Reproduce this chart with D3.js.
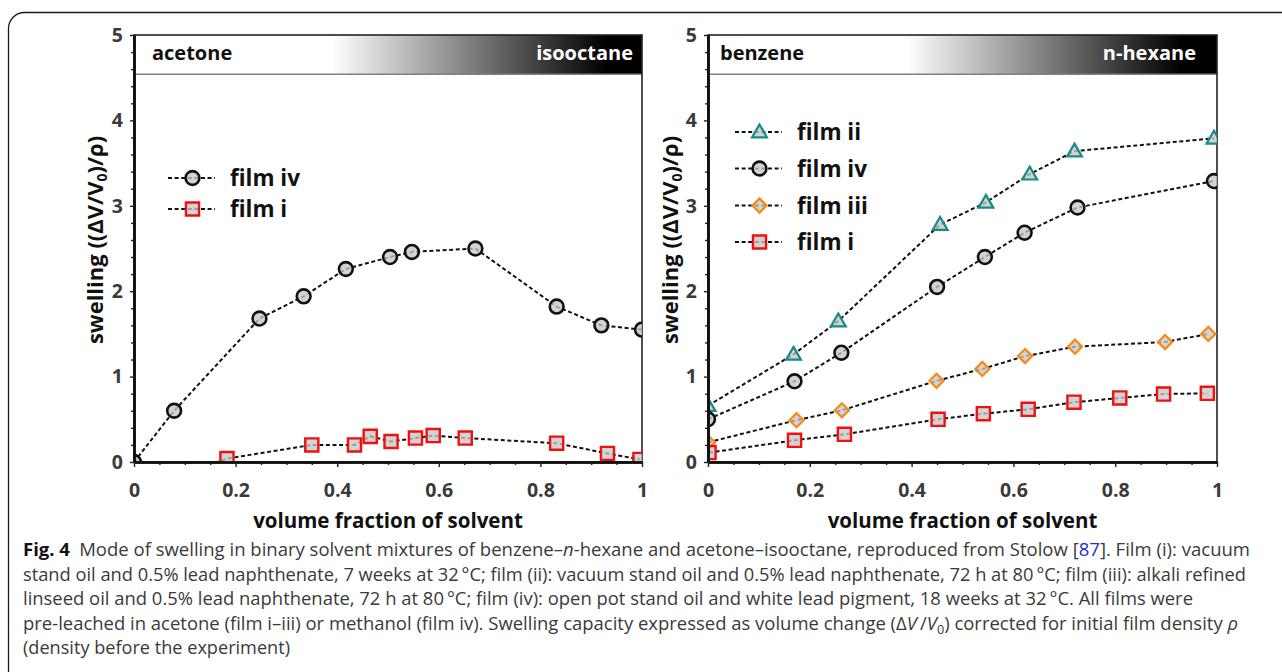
<!DOCTYPE html>
<html><head><meta charset="utf-8">
<script src="https://cdn.jsdelivr.net/npm/d3@7"></script>
<style>body{margin:0;background:#fff}svg{display:block}</style>
</head><body>
<script>
// ---------- data ----------
const xTicks = [0, 0.2, 0.4, 0.6, 0.8, 1];
const xTickLabels = ["0", "0.2", "0.4", "0.6", "0.8", "1"];
const xMinorTicks = [0.05,0.1,0.15,0.25,0.3,0.35,0.45,0.5,0.55,0.65,0.7,0.75,0.85,0.9,0.95];
const yTicks = [0, 1, 2, 3, 4, 5];
const yTickLabels = ["0", "1", "2", "3", "4", "5"];
const yMinorTicks = [0.2,0.4,0.6,0.8,1.2,1.4,1.6,1.8,2.2,2.4,2.6,2.8,3.2,3.4,3.6,3.8,4.2,4.4,4.6,4.8];

// acetone – isooctane panel
const acetoneFilmIvX = [0, 0.079, 0.247, 0.334, 0.417, 0.504, 0.547, 0.672, 0.832, 0.92, 1.0];
const acetoneFilmIvY = [0, 0.6, 1.68, 1.94, 2.26, 2.4, 2.46, 2.5, 1.82, 1.6, 1.55];
const acetoneFilmIX = [0.1, 0.183, 0.35, 0.434, 0.465, 0.506, 0.554, 0.589, 0.652, 0.832, 0.932, 0.996];
const acetoneFilmIY = [-0.15, 0.04, 0.2, 0.2, 0.3, 0.24, 0.28, 0.31, 0.28, 0.22, 0.1, 0.03];

// benzene – n-hexane panel
const benzeneFilmIiX = [0, 0.168, 0.256, 0.456, 0.546, 0.632, 0.72, 0.994];
const benzeneFilmIiY = [0.66, 1.26, 1.65, 2.78, 3.04, 3.37, 3.64, 3.79];
const benzeneFilmIvX = [0, 0.17, 0.262, 0.45, 0.544, 0.622, 0.726, 0.994];
const benzeneFilmIvY = [0.5, 0.945, 1.28, 2.05, 2.4, 2.685, 2.98, 3.29];
const benzeneFilmIiiX = [0, 0.174, 0.263, 0.449, 0.539, 0.623, 0.721, 0.898, 0.983];
const benzeneFilmIiiY = [0.23, 0.49, 0.605, 0.95, 1.09, 1.24, 1.35, 1.405, 1.5];
const benzeneFilmIX = [0.002, 0.17, 0.268, 0.452, 0.541, 0.629, 0.719, 0.809, 0.895, 0.981];
const benzeneFilmIY = [0.11, 0.254, 0.324, 0.5, 0.566, 0.617, 0.7, 0.75, 0.796, 0.804];

const solventBarLow = 4.54;
const leftSolvents = ["acetone", "isooctane"];
const rightSolvents = ["benzene", "n-hexane"];
const xTitle = "volume fraction of solvent";

// ---------- styles ----------
const markerStyles = {
  circle:  {stroke: "#111", sw: 2.6},
  square:  {stroke: "#ee1111", sw: 2.4},
  triangle:{stroke: "#178a8c", sw: 2.2},
  diamond: {stroke: "#f58a18", sw: 2.2}
};
const FONT = "'Open Sans', 'DejaVu Sans', sans-serif";

const W = 1282, H = 672;
const svg = d3.select("body").append("svg").attr("width", W).attr("height", H)
  .style("font-family", FONT);
svg.append("rect").attr("width", W).attr("height", H).attr("fill", "#fff");
const defs = svg.append("defs");

// outer rounded frame
svg.append("rect").attr("x", 8.5).attr("y", 12.5).attr("width", 1400).attr("height", 800)
  .attr("rx", 16).attr("fill", "none").attr("stroke", "#1a1a1a").attr("stroke-width", 1.3);

function markerPath(type) {
  if (type === "circle") return d3.symbol(d3.symbolCircle, 150)();
  if (type === "square") return d3.symbol(d3.symbolSquare, 172)();
  if (type === "triangle") return d3.symbol(d3.symbolTriangle, 95)();
  if (type === "diamond") return d3.symbol(d3.symbolSquare, 100)();
}
function drawMarker(sel, type, cx, cy) {
  const st = markerStyles[type];
  sel.append("path").attr("d", markerPath(type))
    .attr("transform", `translate(${cx},${cy})` + (type === "diamond" ? " rotate(45)" : "") + (type === "triangle" ? " translate(0,1)" : ""))
    .attr("fill", "#c6c6c6").attr("fill-opacity", 0.78)
    .attr("stroke", st.stroke).attr("stroke-width", st.sw);
}

function drawPanel(p, idx) {
  const x = d3.scaleLinear().domain([0, 1]).range([p.x0, p.x1]);
  const y = d3.scaleLinear().domain([0, 5]).range([462, 35]);
  const g = svg.append("g");

  // gradient bar
  const gid = "grad" + idx;
  const grad = defs.append("linearGradient").attr("id", gid).attr("x1", "0").attr("x2", "1").attr("y1", "0").attr("y2", "0");
  grad.append("stop").attr("offset", "0").attr("stop-color", "#fff");
  grad.append("stop").attr("offset", "0.39").attr("stop-color", "#fff");
  grad.append("stop").attr("offset", "0.93").attr("stop-color", "#000");
  grad.append("stop").attr("offset", "1").attr("stop-color", "#000");
  g.append("rect").attr("x", x(0)).attr("y", y(5)).attr("width", x(1) - x(0))
    .attr("height", y(solventBarLow) - y(5)).attr("fill", `url(#${gid})`);
  g.append("line").attr("x1", x(0)).attr("x2", x(1)).attr("y1", y(solventBarLow)).attr("y2", y(solventBarLow))
    .attr("stroke", "#808080").attr("stroke-width", 1.6);
  g.append("text").attr("x", x(0) + p.labelInset).attr("y", 60).text(p.solvents[0])
    .attr("font-size", 20).attr("font-weight", 700).attr("fill", "#111");
  g.append("text").attr("x", x(1) - p.labelInsetR).attr("y", 60).attr("text-anchor", "end").text(p.solvents[1])
    .attr("font-size", 20).attr("font-weight", 700).attr("fill", "#fff");

  // frame
  g.append("rect").attr("x", x(0)).attr("y", y(5)).attr("width", x(1) - x(0)).attr("height", y(0) - y(5))
    .attr("fill", "none").attr("stroke", "#222").attr("stroke-width", 1.6);

  // clip
  const cid = "clip" + idx;
  defs.append("clipPath").attr("id", cid).append("rect")
    .attr("x", x(0)).attr("y", y(5)).attr("width", x(1) - x(0)).attr("height", y(0) - y(5));
  const plot = g.append("g").attr("clip-path", `url(#${cid})`);

  const line = d3.line().x(d => x(d[0])).y(d => y(d[1]));
  p.series.forEach(s => {
    const pts = s.xs.map((v, i) => [v, s.ys[i]]);
    plot.append("path").datum(pts).attr("d", line).attr("fill", "none")
      .attr("stroke", "#111").attr("stroke-width", 2).attr("stroke-dasharray", "4,2.6");
  });
  p.series.forEach(s => {
    s.xs.forEach((v, i) => drawMarker(plot, s.marker, x(v), y(s.ys[i])));
  });

  // axes
  const yAxis = d3.axisLeft(y).tickValues(yTicks).tickFormat((d, i) => yTickLabels[i]).tickSize(4).tickSizeOuter(0).tickPadding(7);
  const yMinor = d3.axisLeft(y).tickValues(yMinorTicks).tickFormat("").tickSize(3).tickSizeOuter(0);
  const xAxis = d3.axisBottom(x).tickValues(xTicks).tickFormat((d, i) => xTickLabels[i]).tickSize(5).tickSizeOuter(0).tickPadding(16);
  const xMinor = d3.axisBottom(x).tickValues(xMinorTicks).tickFormat("").tickSize(3).tickSizeOuter(0);
  [yMinor, yAxis].forEach(a => {
    const ga = g.append("g").attr("transform", `translate(${x(0)},0)`).call(a);
    ga.select(".domain").attr("stroke", "#111").attr("stroke-width", 2.6);
    ga.selectAll(".tick line").attr("stroke", "#222").attr("stroke-width", 1.4);
    ga.selectAll("text").attr("font-size", 19.5).attr("font-weight", 700).attr("fill", "#3a3a3a").attr("font-family", FONT);
  });
  [xMinor, xAxis].forEach(a => {
    const ga = g.append("g").attr("transform", `translate(0,${y(0)})`).call(a);
    ga.select(".domain").attr("stroke", "#111").attr("stroke-width", 2.6);
    ga.selectAll(".tick line").attr("stroke", "#222").attr("stroke-width", 1.4);
    ga.selectAll("text").attr("font-size", 19.5).attr("font-weight", 700).attr("fill", "#3a3a3a").attr("font-family", FONT);
  });

  // titles
  g.append("text").attr("x", (x(0) + x(1)) / 2).attr("y", 528).attr("text-anchor", "middle")
    .attr("font-size", 20.5).attr("font-weight", 700).attr("fill", "#111").text(xTitle);
  const yt = g.append("text").attr("transform", `translate(${p.yTitleX},240) rotate(-90)`)
    .attr("text-anchor", "middle").attr("font-size", 22).attr("font-weight", 700).attr("fill", "#111");
  yt.append("tspan").text("swelling ((ΔV/V");
  yt.append("tspan").text("0").attr("font-size", 14).attr("dy", 4);
  yt.append("tspan").text(")/ρ)").attr("dy", -4);

  // legend
  p.series.forEach((s, i) => {
    const ly = p.legendY[i];
    const lg = g.append("g");
    lg.append("line").attr("x1", p.legendX).attr("x2", p.legendX + 47).attr("y1", ly).attr("y2", ly)
      .attr("stroke", "#111").attr("stroke-width", 2).attr("stroke-dasharray", "4,2.6");
    drawMarker(lg, s.marker, p.legendX + 24.5, ly);
    lg.append("text").attr("x", p.legendX + 62).attr("y", ly + 8).text(s.name)
      .attr("font-size", 22.5).attr("font-weight", 700).attr("fill", "#111");
  });
}

drawPanel({
  x0: 134, x1: 642, yTitleX: 103, labelInset: 18, labelInsetR: 9, solvents: leftSolvents,
  legendX: 168, legendY: [178, 209],
  series: [
    {name: "film iv", marker: "circle", xs: acetoneFilmIvX, ys: acetoneFilmIvY},
    {name: "film i", marker: "square", xs: acetoneFilmIX, ys: acetoneFilmIY}
  ]
}, 0);

drawPanel({
  x0: 708, x1: 1217, yTitleX: 678, labelInset: 12, labelInsetR: 21, solvents: rightSolvents,
  legendX: 735, legendY: [132, 168.5, 205.5, 242],
  series: [
    {name: "film ii", marker: "triangle", xs: benzeneFilmIiX, ys: benzeneFilmIiY},
    {name: "film iv", marker: "circle", xs: benzeneFilmIvX, ys: benzeneFilmIvY},
    {name: "film iii", marker: "diamond", xs: benzeneFilmIiiX, ys: benzeneFilmIiiY},
    {name: "film i", marker: "square", xs: benzeneFilmIX, ys: benzeneFilmIY}
  ]
}, 1);

// ---------- caption ----------
const capX = 23;
const capLines = [
  {y: 556, end: 1250, parts: [
    {t: "Fig. 4", b: true}, {t: "\u2002Mode of swelling in binary solvent mixtures of benzene\u2013"}, {t: "n", i: true},
    {t: "-hexane and acetone\u2013isooctane, reproduced from Stolow ["}, {t: "87", c: "#2b2bd8"}, {t: "]. Film (i): vacuum"}]},
  {y: 580.5, end: 1246, parts: [{t: "stand oil and 0.5% lead naphthenate, 7 weeks at 32\u2009\u00b0C; film (ii): vacuum stand oil and 0.5% lead naphthenate, 72 h at 80\u2009\u00b0C; film (iii): alkali refined"}]},
  {y: 605, end: 1193, parts: [{t: "linseed oil and 0.5% lead naphthenate, 72 h at 80\u2009\u00b0C; film (iv): open pot stand oil and white lead pigment, 18 weeks at 32\u2009\u00b0C. All films were"}]},
  {y: 629.5, end: 1238, parts: [{t: "pre-leached in acetone (film i\u2013iii) or methanol (film iv). Swelling capacity expressed as volume change (\u0394"}, {t: "V", i: true}, {t: "\u2009/"}, {t: "V", i: true}, {t: "0", sub: true}, {t: ") corrected for initial film density "}, {t: "\u03c1", i: true}]},
  {y: 654, end: 290, parts: [{t: "(density before the experiment)"}]}
];
capLines.forEach(l => {
  const t = svg.append("text").attr("x", capX).attr("y", l.y).attr("font-size", 17.5).attr("fill", "#3a3a3a")
    .attr("textLength", l.end - capX).attr("lengthAdjust", "spacingAndGlyphs");
  let shifted = false;
  l.parts.forEach(pt => {
    const ts = t.append("tspan").text(pt.t);
    if (pt.b) ts.attr("font-weight", 700).attr("fill", "#111");
    if (pt.i) ts.attr("font-style", "italic");
    if (pt.c) ts.attr("fill", pt.c);
    if (pt.sub) { ts.attr("font-size", 12).attr("dy", 4); shifted = true; }
    else if (shifted) { ts.attr("dy", -4); shifted = false; }
  });
});
</script>
</body></html>
